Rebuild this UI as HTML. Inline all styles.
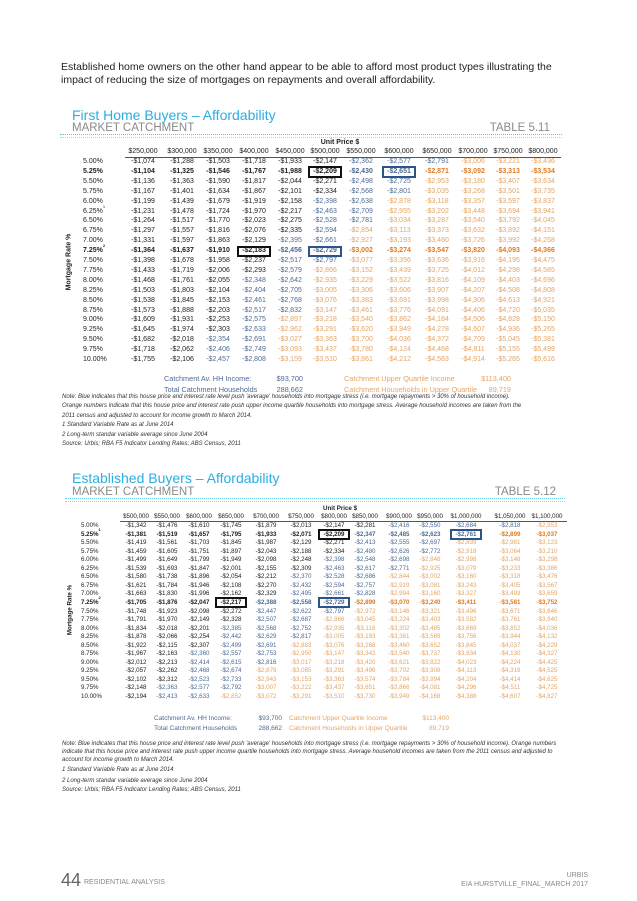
<!DOCTYPE html>
<html><head><meta charset="utf-8">
<style>
body{margin:0;background:#fff;}
#p{position:relative;width:637px;height:901px;overflow:hidden;font-family:"Liberation Sans",Arial,sans-serif;color:#222;}
.a{position:absolute;white-space:nowrap;}
.c{transform:translateX(-50%);text-align:center;}
.r{transform:translateX(-100%);}
.t{color:#2aaee3;font-size:14px;}
.m{color:#8a8a8a;font-size:11.5px;}
.dl{position:absolute;border-top:1px dotted #5fc3e6;height:2px;border-bottom:1px dotted #9ad8ee;}
.n{font-size:6px;font-style:italic;color:#333;}
.bl{color:#4d6b94;} .or{color:#e3a566;} .bor{color:#e07b22;}
.box{position:absolute;border:2px solid #111;box-sizing:border-box;}
.bbox{position:absolute;border:2px solid #2d5488;box-sizing:border-box;}
sup{line-height:0;vertical-align:top;position:relative;top:-1px;}
</style></head><body><div id="p">
<div class="a" style="left:61px;top:61px;font-size:10.5px;line-height:13px;">Established home owners on the other hand appear to be able to afford most product types illustrating the<br>impact of reducing the size of mortgages on repayments and overall affordability.</div>

<div class="a t" style="left:72px;top:107px;">First Home Buyers – Affordability</div>
<div class="a m" style="left:72px;top:122px;">MARKET CATCHMENT</div>
<div class="a m r" style="left:550px;top:122px;">TABLE 5.11</div>
<div class="dl" style="left:60px;top:134px;width:502px;"></div>

<div class="a t" style="left:72px;top:470px;">Established Buyers – Affordability</div>
<div class="a m" style="left:72px;top:486px;">MARKET CATCHMENT</div>
<div class="a m r" style="left:556px;top:486px;">TABLE 5.12</div>
<div class="dl" style="left:65px;top:498px;width:500px;"></div>

<div class="a" style="left:61px;top:870px;font-size:18px;color:#666;">44</div>
<div class="a" style="left:84px;top:879px;font-size:7px;color:#888;">RESIDENTIAL ANALYSIS</div>
<div class="a r" style="left:588px;top:872px;font-size:7px;color:#888;">URBIS</div>
<div class="a r" style="left:588px;top:881px;font-size:7px;color:#888;">EIA HURSTVILLE_FINAL_MARCH 2017</div>
</div>
<script>
var P=document.getElementById('p');
function add(html,cls,l,t,st){var d=document.createElement('div');d.className='a '+(cls||'');d.style.left=l+'px';d.style.top=t+'px';if(st)d.style.cssText+=st;d.innerHTML=html;P.appendChild(d);return d;}
function fmt(v){return '-$'+Math.round(v).toLocaleString('en-US');}
function pay(L,r){var i=r/1200,n=360;return L*i/(1-Math.pow(1+i,-n));}
var rates=[];for(var k=0;k<21;k++)rates.push(5+k*0.25);
function table(o){
 add('Unit Price $','c',o.upx,o.upy,'font-size:'+(o.fs)+'px;font-weight:bold;');
 o.prices.forEach(function(p,j){add('$'+p.toLocaleString('en-US'),'c',o.cx[j],o.hy,'font-size:'+o.fs+'px;');});
 var u=document.createElement('div');u.style.cssText='position:absolute;left:'+o.ux0+'px;width:'+(o.ux1-o.ux0)+'px;top:'+o.uy+'px;border-top:1px solid #555;';P.appendChild(u);
 rates.forEach(function(r,i){
  var y=o.y0+i*o.step, bold=(r==5.25||r==7.25);
  var lab=r.toFixed(2)+'%';
  if(o.sup[r])lab+='<sup style="font-size:4px">'+o.sup[r]+'</sup>';
  add(lab,'',o.rx,y,'font-size:'+o.fs+'px;line-height:'+(o.fs+1)+'px;'+(bold?'font-weight:bold;':''));
  o.prices.forEach(function(p,j){
   var v=pay(p*o.lvr,r),cls='';
   if(v>=2835)cls=bold?'bor':'or';else if(v>=2342.5)cls='bl';
   add(fmt(v),'c '+cls,o.cx[j],y,'font-size:'+o.fs+'px;line-height:'+(o.fs+1)+'px;'+(bold?'font-weight:bold;':''));
  });
 });
 o.boxes.forEach(function(b){var d=document.createElement('div');d.className=b[2];var y=o.y0+rates.indexOf(b[0])*o.step;
  d.style.cssText+='left:'+(o.cx[b[1]]-o.bw/2)+'px;top:'+(y-1.5)+'px;width:'+o.bw+'px;height:'+(o.step+2)+'px;';P.appendChild(d);});
 add('Mortgage Rate %','',o.mx,o.my,'font-size:'+o.fs+'px;font-weight:bold;transform:translate(-50%,-50%) rotate(-90deg);');
 add('Catchment Av. HH Income:','bl',o.c1,o.cy,'font-size:'+(o.fs+0.3)+'px;');
 add('Total Catchment Households','bl',o.c1,o.cy+o.cs,'font-size:'+(o.fs+0.3)+'px;');
 add('$93,700','bl r',o.c2,o.cy,'font-size:'+(o.fs+0.3)+'px;');
 add('288,662','bl r',o.c2,o.cy+o.cs,'font-size:'+(o.fs+0.3)+'px;');
 add('Catchment Upper Quartile Income','or',o.c3,o.cy,'font-size:'+(o.fs+0.3)+'px;');
 add('Catchment Households in Upper Quartile','or',o.c3,o.cy+o.cs,'font-size:'+(o.fs+0.3)+'px;');
 add('$113,400','or r',o.c4,o.cy,'font-size:'+(o.fs+0.3)+'px;');
 add('89,719','or r',o.c4,o.cy+o.cs,'font-size:'+(o.fs+0.3)+'px;');
 o.notes.forEach(function(n){add(n[1],'n',o.nx,n[0]);});
}
table({prices:[250000,300000,350000,400000,450000,500000,550000,600000,650000,700000,750000,800000],
 lvr:0.8,fs:7,cx:[143,182,218,254,290,325,361,399,437,473,508,543],hy:148,upx:340,upy:139,ux0:125,ux1:561,uy:157,
 y0:158,step:9.9,rx:83,sup:{6.25:'1',7.25:'2'},bw:34,
 boxes:[[5.25,5,'box'],[5.25,7,'bbox'],[7.25,3,'box'],[7.25,5,'bbox']],mx:69,my:262,
 c1:164,c2:303,c3:344,c4:511,cy:374,cs:11,nx:62,
 notes:[[394,"Note: Blue indicates that this house price and interest rate level push 'average' households into mortgage stress (i.e. mortgage repayments &gt; 30% of household income)."],
 [403,"Orange numbers indicate that this house price and interest rate push upper income quartile households into mortgage stress. Average household incomes are taken from the"],
 [413,"2011 census and adjusted to account for income growth to March 2014."],
 [422,"1 Standard Variable Rate as at June 2014"],[432,"2 Long-term standar variable average since June 2004"],[441,"Source: Urbis; RBA F5 Indicator Lending Rates; ABS Census, 2011"]]});
table({prices:[500000,550000,600000,650000,700000,750000,800000,850000,900000,950000,1000000,1050000,1100000],
 lvr:0.5,fs:6.2,cx:[136,167,199,231,266,301,334,365,399,430,466,510,547],hy:513,upx:340,upy:505,ux0:120,ux1:567,uy:521,
 y0:522,step:8.55,rx:81,sup:{5.25:'1',7.25:'2'},bw:32,
 boxes:[[5.25,6,'box'],[5.25,10,'bbox'],[7.25,3,'box'],[7.25,6,'bbox']],mx:70,my:610,
 c1:154,c2:282,c3:289,c4:449,cy:715,cs:10,nx:62,
 notes:[[741,"Note: Blue indicates that this house price and interest rate level push 'average' households into mortgage stress (i.e. mortgage repayments &gt; 30% of household income). Orange numbers"],
 [749,"indicate that this house price and interest rate push upper income quartile households into mortgage stress. Average household incomes are taken from the 2011 census and adjusted to"],
 [757,"account for income growth to March 2014."],
 [767,"1 Standard Variable Rate as at June 2014"],[778,"2 Long-term standar variable average since June 2004"],[787,"Source: Urbis; RBA F5 Indicator Lending Rates; ABS Census, 2011"]]});
</script>
</body></html>
